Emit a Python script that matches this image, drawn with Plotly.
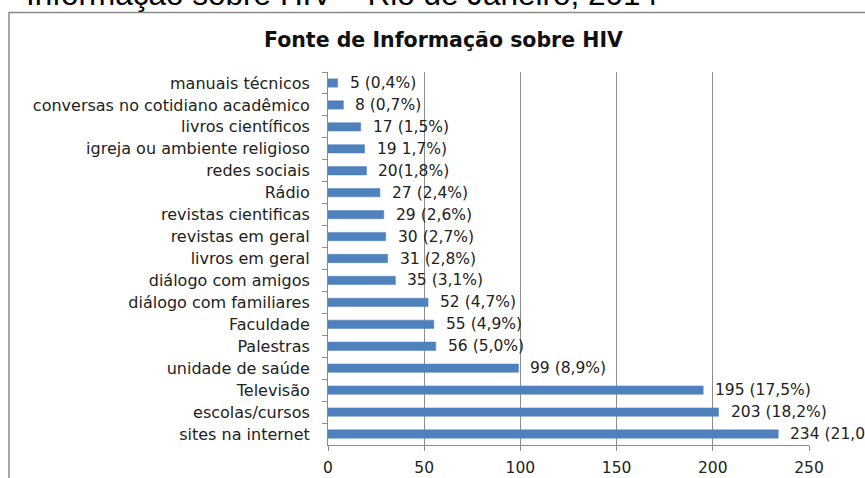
import plotly.graph_objects as go

categories = [
    "manuais técnicos", "conversas no cotidiano acadêmico", "livros científicos",
    "igreja ou ambiente religioso", "redes sociais", "Rádio", "revistas cientificas",
    "revistas em geral", "livros em geral", "diálogo com amigos",
    "diálogo com familiares", "Faculdade", "Palestras", "unidade de saúde",
    "Televisão", "escolas/cursos", "sites na internet",
]
values = [5, 8, 17, 19, 20, 27, 29, 30, 31, 35, 52, 55, 56, 99, 195, 203, 234]
labels = [
    "5 (0,4%)", "8 (0,7%)", "17 (1,5%)", "19 1,7%)", "20(1,8%)", "27 (2,4%)",
    "29 (2,6%)", "30 (2,7%)", "31 (2,8%)", "35 (3,1%)", "52 (4,7%)", "55 (4,9%)",
    "56 (5,0%)", "99 (8,9%)", "195 (17,5%)", "203 (18,2%)", "234 (21,0%)",
]
x_ticks = [0, 50, 100, 150, 200, 250]

FONT = "DejaVu Sans"
W, H = 865, 478
L, R, T, B = 328, 56, 72, 33
pw, ph = W - L - R, H - T - B

def px(xp):
    return (xp - L) / pw

def py(yp):
    return 1 + (T - yp) / ph

fig = go.Figure()
fig.add_trace(go.Bar(
    x=values, y=categories, orientation="h", width=0.38,
    marker=dict(color="#4F81BD", line=dict(color="#4A7EBB", width=0.5)),
    hoverinfo="x+y",
))

for v, c, t in zip(values, categories, labels):
    fig.add_annotation(x=v, y=c, text=t, xanchor="left", yanchor="middle",
                       xshift=10, showarrow=False,
                       font=dict(family=FONT, size=15.5, color="#222222"))

fig.add_annotation(xref="paper", yref="paper", x=px(443), y=py(40),
                   text="<b>Fonte de Informação sobre HIV</b>", showarrow=False,
                   xanchor="center", yanchor="middle",
                   font=dict(family=FONT, size=20.5, color="#111111"))

fig.add_annotation(xref="paper", yref="paper", x=px(24), y=py(14),
                   text="Informação sobre HIV – Rio de Janeiro, 2014", showarrow=False,
                   xanchor="left", yanchor="bottom",
                   font=dict(family="Liberation Sans", size=31.5, color="#000000"))

fig.add_shape(type="rect", xref="paper", yref="paper",
              x0=px(9), x1=px(900), y0=py(520), y1=py(12.5),
              line=dict(color="#8a8a8a", width=1.5), fillcolor="rgba(0,0,0,0)")

fig.update_layout(
    width=W, height=H, margin=dict(l=L, r=R, t=T, b=B, autoexpand=False),
    paper_bgcolor="white", plot_bgcolor="white", showlegend=False,
    font=dict(family=FONT, size=15.5, color="#222222"),
)
fig.update_xaxes(range=[0, 250], tickvals=x_ticks, showgrid=True,
                 gridcolor="#8c8c8c", gridwidth=1, zeroline=False,
                 showline=True, linecolor="#8c8c8c", linewidth=1,
                 ticks="outside", ticklen=5, tickcolor="#8c8c8c",
                 tickfont=dict(family=FONT, size=15.5, color="#222222"),
                 ticklabelstandoff=3, automargin=False)
fig.update_yaxes(autorange="reversed", showline=True, linecolor="#8c8c8c",
                 linewidth=1, ticks="outside", tickson="boundaries", ticklen=5,
                 tickcolor="#8c8c8c", showgrid=False,
                 tickfont=dict(family=FONT, size=16, color="#222222"),
                 ticklabelstandoff=14, automargin=False)

fig.write_html("out.html", config={"displayModeBar": False},
               post_script="document.body.style.margin='0';")
